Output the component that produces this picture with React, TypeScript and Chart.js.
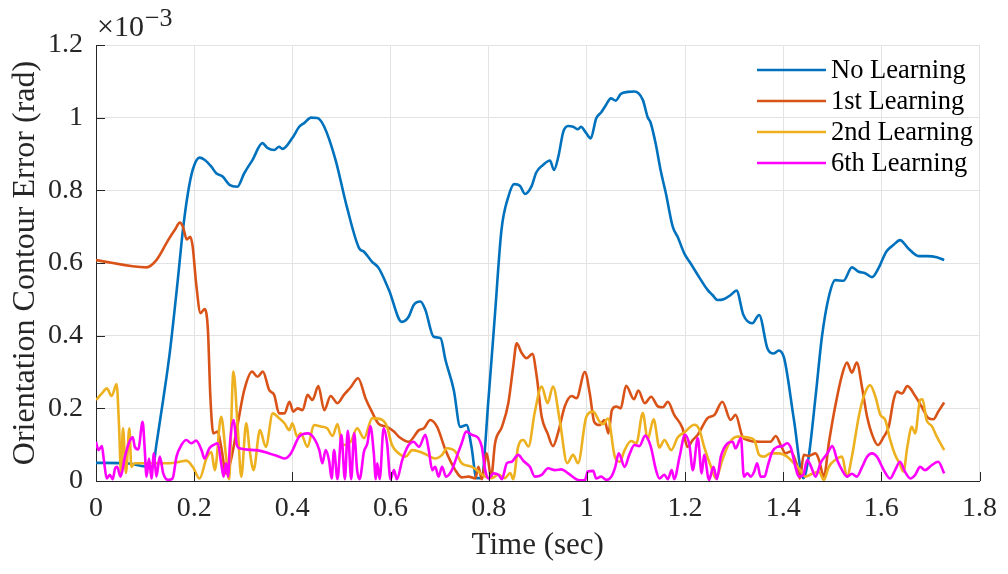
import React, { useEffect, useRef } from "react";
import { Chart, registerables } from "chart.js";

Chart.register(...registerables);

// ---- data (errors in units of 1e-3 rad) ----
const seriesNames = ["No Learning", "1st Learning", "2nd Learning", "6th Learning"];
const seriesColors = ["#0072BD", "#D95319", "#EDB120", "#FF00FF"];

const xTicks = [0, 0.2, 0.4, 0.6, 0.8, 1, 1.2, 1.4, 1.6, 1.8];
const xTickLabels = ["0", "0.2", "0.4", "0.6", "0.8", "1", "1.2", "1.4", "1.6", "1.8"];
const yTicks = [0, 0.2, 0.4, 0.6, 0.8, 1, 1.2];
const yTickLabels = ["0", "0.2", "0.4", "0.6", "0.8", "1", "1.2"];

const noLearnT = [
  0, 0.062, 0.100, 0.116, 0.123, 0.137, 0.150, 0.166, 0.177, 0.187,
  0.197, 0.211, 0.221, 0.235, 0.245, 0.258, 0.272, 0.288, 0.302, 0.319,
  0.339, 0.349, 0.363, 0.373, 0.380, 0.400, 0.414, 0.424, 0.438, 0.451,
  0.465, 0.488, 0.511, 0.536, 0.546, 0.562, 0.576, 0.597, 0.623, 0.637,
  0.647, 0.661, 0.671, 0.688, 0.702, 0.712, 0.729, 0.742, 0.755, 0.765,
  0.775, 0.785, 0.800, 0.813, 0.826, 0.840, 0.852, 0.864, 0.874, 0.887,
  0.897, 0.911, 0.925, 0.933, 0.942, 0.952, 0.962, 0.972, 0.982, 0.988,
  0.998, 1.008, 1.019, 1.029, 1.039, 1.049, 1.059, 1.069, 1.084, 1.097,
  1.114, 1.124, 1.130, 1.140, 1.151, 1.161, 1.175, 1.185, 1.199, 1.211,
  1.226, 1.246, 1.256, 1.266, 1.280, 1.293, 1.305, 1.319, 1.337, 1.351,
  1.368, 1.381, 1.391, 1.402, 1.422, 1.441, 1.452, 1.466, 1.479, 1.493,
  1.506, 1.523, 1.540, 1.554, 1.567, 1.581, 1.594, 1.610, 1.625, 1.638,
  1.655, 1.676, 1.692, 1.713, 1.728,
];
const noLearnV = [
  0.050, 0.049, 0.040, 0.039, 0.100, 0.225, 0.350, 0.545, 0.690, 0.790,
  0.856, 0.890, 0.884, 0.865, 0.847, 0.838, 0.815, 0.810, 0.847, 0.884,
  0.930, 0.917, 0.911, 0.920, 0.914, 0.944, 0.975, 0.985, 1.000, 0.999,
  0.975, 0.884, 0.755, 0.641, 0.631, 0.604, 0.586, 0.525, 0.438, 0.452,
  0.484, 0.494, 0.471, 0.397, 0.393, 0.333, 0.250, 0.149, 0.154, 0.094,
  0.008, 0.008, 0.232, 0.462, 0.690, 0.782, 0.817, 0.812, 0.790, 0.810,
  0.849, 0.870, 0.882, 0.856, 0.893, 0.961, 0.977, 0.975, 0.968, 0.975,
  0.959, 0.943, 0.998, 1.014, 1.035, 1.053, 1.047, 1.065, 1.071, 1.072,
  1.049, 1.001, 0.986, 0.930, 0.851, 0.792, 0.700, 0.672, 0.625, 0.600,
  0.567, 0.526, 0.512, 0.498, 0.501, 0.512, 0.524, 0.457, 0.434, 0.457,
  0.365, 0.351, 0.359, 0.338, 0.168, 0.008, 0.067, 0.232, 0.397, 0.507,
  0.553, 0.551, 0.588, 0.576, 0.572, 0.561, 0.585, 0.631, 0.650, 0.663,
  0.640, 0.619, 0.619, 0.616, 0.608,
];

const firstT = [
  0, 0.103, 0.123, 0.147, 0.160, 0.171, 0.177, 0.185, 0.192, 0.197,
  0.204, 0.213, 0.221, 0.228, 0.233, 0.239, 0.248, 0.255, 0.265, 0.275,
  0.289, 0.302, 0.318, 0.329, 0.340, 0.353, 0.363, 0.373, 0.384, 0.394,
  0.402, 0.411, 0.421, 0.431, 0.441, 0.453, 0.465, 0.478, 0.492, 0.505,
  0.519, 0.534, 0.549, 0.563, 0.576, 0.593, 0.607, 0.617, 0.637, 0.658,
  0.668, 0.681, 0.695, 0.712, 0.732, 0.745, 0.759, 0.773, 0.779, 0.786,
  0.796, 0.805, 0.813, 0.827, 0.840, 0.850, 0.857, 0.867, 0.877, 0.889,
  0.898, 0.908, 0.920, 0.931, 0.942, 0.955, 0.969, 0.979, 0.996, 1.006,
  1.015, 1.026, 1.036, 1.044, 1.051, 1.060, 1.069, 1.080, 1.096, 1.105,
  1.118, 1.131, 1.145, 1.155, 1.165, 1.178, 1.195, 1.205, 1.216, 1.226,
  1.246, 1.260, 1.276, 1.293, 1.303, 1.317, 1.327, 1.354, 1.374, 1.385,
  1.395, 1.405, 1.415, 1.429, 1.434, 1.442, 1.452, 1.466, 1.473, 1.483,
  1.493, 1.506, 1.520, 1.530, 1.540, 1.550, 1.561, 1.571, 1.584, 1.593,
  1.605, 1.615, 1.625, 1.632, 1.642, 1.653, 1.669, 1.682, 1.696, 1.706,
  1.716, 1.728,
];
const firstV = [
  0.608, 0.588, 0.608, 0.663, 0.690, 0.711, 0.700, 0.665, 0.672, 0.645,
  0.544, 0.462, 0.473, 0.416, 0.232, 0.131, 0.136, 0.094, 0.021, 0.058,
  0.159, 0.250, 0.301, 0.287, 0.301, 0.250, 0.237, 0.186, 0.186, 0.218,
  0.191, 0.200, 0.195, 0.237, 0.223, 0.261, 0.195, 0.234, 0.214, 0.237,
  0.258, 0.283, 0.228, 0.188, 0.157, 0.149, 0.136, 0.122, 0.108, 0.140,
  0.145, 0.168, 0.149, 0.085, 0.030, 0.010, 0.012, 0.007, 0.039, 0.005,
  0.076, 0.010, 0.104, 0.149, 0.214, 0.315, 0.379, 0.353, 0.338, 0.350,
  0.287, 0.177, 0.131, 0.096, 0.136, 0.205, 0.234, 0.228, 0.300, 0.241,
  0.163, 0.154, 0.168, 0.131, 0.195, 0.205, 0.200, 0.262, 0.225, 0.249,
  0.214, 0.232, 0.205, 0.203, 0.218, 0.182, 0.145, 0.094, 0.113, 0.127,
  0.173, 0.182, 0.218, 0.168, 0.182, 0.122, 0.113, 0.108, 0.108, 0.124,
  0.099, 0.076, 0.081, 0.039, 0.007, 0.072, 0.069, 0.076, 0.058, 0.012,
  0.104, 0.205, 0.292, 0.326, 0.298, 0.326, 0.255, 0.177, 0.118, 0.099,
  0.122, 0.149, 0.223, 0.246, 0.241, 0.261, 0.234, 0.205, 0.173, 0.170,
  0.191, 0.216,
];

const secondT = [
  0, 0.012, 0.022, 0.032, 0.042, 0.047, 0.051, 0.055, 0.061, 0.068,
  0.072, 0.079, 0.110, 0.150, 0.171, 0.184, 0.197, 0.211, 0.225, 0.235,
  0.242, 0.255, 0.265, 0.271, 0.280, 0.289, 0.296, 0.306, 0.313, 0.321,
  0.334, 0.346, 0.360, 0.373, 0.384, 0.394, 0.400, 0.410, 0.417, 0.431,
  0.444, 0.458, 0.471, 0.482, 0.492, 0.502, 0.519, 0.532, 0.546, 0.563,
  0.583, 0.593, 0.603, 0.617, 0.631, 0.644, 0.658, 0.674, 0.691, 0.705,
  0.715, 0.732, 0.745, 0.766, 0.779, 0.793, 0.806, 0.820, 0.833, 0.844,
  0.850, 0.860, 0.871, 0.881, 0.894, 0.908, 0.920, 0.931, 0.945, 0.960,
  0.972, 0.982, 0.999, 1.013, 1.026, 1.033, 1.043, 1.057, 1.067, 1.077,
  1.090, 1.101, 1.114, 1.124, 1.136, 1.148, 1.158, 1.172, 1.185, 1.199,
  1.219, 1.229, 1.239, 1.253, 1.263, 1.276, 1.290, 1.307, 1.327, 1.341,
  1.351, 1.361, 1.374, 1.391, 1.408, 1.422, 1.435, 1.445, 1.459, 1.473,
  1.483, 1.493, 1.506, 1.520, 1.530, 1.540, 1.554, 1.564, 1.577, 1.588,
  1.598, 1.608, 1.618, 1.628, 1.637, 1.645, 1.653, 1.662, 1.669, 1.679,
  1.684, 1.692, 1.703, 1.713, 1.728,
];
const secondV = [
  0.223, 0.241, 0.255, 0.234, 0.267, 0.149, 0.021, 0.145, 0.022, 0.145,
  0.039, 0.049, 0.049, 0.049, 0.053, 0.056, 0.039, 0.007, 0.062, 0.080,
  0.030, 0.177, 0.067, 0.005, 0.301, 0.140, 0.012, 0.159, 0.085, 0.030,
  0.140, 0.094, 0.186, 0.173, 0.159, 0.140, 0.159, 0.122, 0.131, 0.094,
  0.154, 0.150, 0.145, 0.124, 0.157, 0.099, 0.108, 0.145, 0.118, 0.173,
  0.168, 0.149, 0.099, 0.076, 0.067, 0.085, 0.081, 0.072, 0.062, 0.072,
  0.090, 0.081, 0.049, 0.039, 0.026, 0.012, 0.008, 0.017, 0.008, 0.022,
  0.005, 0.094, 0.113, 0.095, 0.190, 0.260, 0.214, 0.260, 0.165, 0.049,
  0.072, 0.049, 0.177, 0.191, 0.163, 0.156, 0.172, 0.067, 0.053, 0.085,
  0.110, 0.104, 0.187, 0.115, 0.170, 0.092, 0.113, 0.085, 0.120, 0.134,
  0.155, 0.142, 0.094, 0.039, 0.007, 0.058, 0.104, 0.122, 0.120, 0.113,
  0.072, 0.067, 0.076, 0.076, 0.067, 0.049, 0.030, 0.012, 0.020, 0.025,
  0.003, 0.039, 0.058, 0.067, 0.012, 0.067, 0.177, 0.232, 0.264, 0.232,
  0.182, 0.168, 0.113, 0.072, 0.049, 0.026, 0.094, 0.149, 0.131, 0.223,
  0.225, 0.168, 0.151, 0.122, 0.085,
];

const sixthT = [
  0, 0.005, 0.012, 0.016, 0.022, 0.028, 0.034, 0.039, 0.043, 0.050,
  0.059, 0.068, 0.075, 0.079, 0.086, 0.095, 0.099, 0.103, 0.108, 0.113,
  0.118, 0.123, 0.130, 0.137, 0.147, 0.156, 0.164, 0.174, 0.184, 0.194,
  0.204, 0.215, 0.221, 0.231, 0.239, 0.248, 0.255, 0.260, 0.265, 0.269,
  0.273, 0.280, 0.287, 0.292, 0.326, 0.353, 0.373, 0.384, 0.397, 0.414,
  0.431, 0.444, 0.455, 0.461, 0.468, 0.475, 0.480, 0.485, 0.492, 0.500,
  0.507, 0.513, 0.520, 0.526, 0.532, 0.537, 0.546, 0.553, 0.559, 0.566,
  0.570, 0.573, 0.578, 0.586, 0.593, 0.600, 0.607, 0.613, 0.624, 0.637,
  0.647, 0.658, 0.671, 0.678, 0.685, 0.691, 0.698, 0.705, 0.713, 0.725,
  0.735, 0.745, 0.754, 0.766, 0.779, 0.786, 0.793, 0.800, 0.810, 0.820,
  0.827, 0.837, 0.847, 0.860, 0.871, 0.884, 0.894, 0.908, 0.921, 0.935,
  0.948, 0.962, 0.982, 0.996, 1.002, 1.013, 1.019, 1.029, 1.040, 1.050,
  1.058, 1.065, 1.077, 1.087, 1.097, 1.107, 1.119, 1.130, 1.141, 1.148,
  1.158, 1.165, 1.173, 1.178, 1.189, 1.200, 1.209, 1.216, 1.226, 1.234,
  1.239, 1.249, 1.258, 1.265, 1.273, 1.287, 1.297, 1.303, 1.314, 1.320,
  1.327, 1.334, 1.341, 1.347, 1.354, 1.362, 1.369, 1.378, 1.388, 1.398,
  1.408, 1.416, 1.425, 1.432, 1.441, 1.449, 1.457, 1.466, 1.476, 1.490,
  1.500, 1.510, 1.520, 1.530, 1.540, 1.550, 1.561, 1.571, 1.581, 1.591,
  1.605, 1.618, 1.628, 1.638, 1.648, 1.659, 1.669, 1.679, 1.689, 1.703,
  1.716, 1.728,
];
const sixthV = [
  0.108, 0.085, 0.096, 0.058, 0.007, 0.017, 0.005, 0.035, 0.039, 0.012,
  0.067, 0.108, 0.120, 0.094, 0.087, 0.163, 0.094, 0.012, 0.062, 0.007,
  0.076, 0.012, 0.067, 0.021, 0.003, 0.007, 0.067, 0.099, 0.113, 0.104,
  0.111, 0.085, 0.062, 0.090, 0.099, 0.104, 0.049, 0.012, 0.049, 0.012,
  0.104, 0.168, 0.099, 0.090, 0.085, 0.076, 0.067, 0.062, 0.076, 0.122,
  0.131, 0.118, 0.085, 0.049, 0.085, 0.055, 0.007, 0.085, 0.005, 0.127,
  0.005, 0.138, 0.005, 0.131, 0.030, 0.005, 0.081, 0.104, 0.151, 0.076,
  0.005, 0.049, 0.005, 0.145, 0.104, 0.005, 0.030, 0.005, 0.058, 0.099,
  0.108, 0.094, 0.127, 0.085, 0.030, 0.039, 0.012, 0.039, 0.012, 0.030,
  0.067, 0.104, 0.136, 0.127, 0.118, 0.094, 0.030, 0.007, 0.021, 0.017,
  0.005, 0.049, 0.053, 0.072, 0.055, 0.039, 0.012, 0.017, 0.035, 0.030,
  0.032, 0.021, 0.003, 0.002, 0.026, 0.028, 0.007, 0.012, 0.003, 0.012,
  0.039, 0.076, 0.039, 0.074, 0.099, 0.096, 0.125, 0.096, 0.030, 0.007,
  0.017, 0.005, 0.030, 0.005, 0.067, 0.127, 0.099, 0.030, 0.118, 0.021,
  0.072, 0.003, 0.039, 0.005, 0.067, 0.104, 0.108, 0.090, 0.118, 0.012,
  0.021, 0.012, 0.026, 0.049, 0.012, 0.012, 0.044, 0.081, 0.094, 0.096,
  0.104, 0.090, 0.039, 0.012, 0.017, 0.058, 0.039, 0.012, 0.049, 0.076,
  0.096, 0.058, 0.030, 0.012, 0.020, 0.012, 0.039, 0.067, 0.076, 0.067,
  0.030, 0.007, 0.030, 0.053, 0.026, 0.007, 0.017, 0.039, 0.030, 0.044,
  0.053, 0.021,
];

const seriesTimes = [noLearnT, firstT, secondT, sixthT];
const seriesValues = [noLearnV, firstV, secondV, sixthV];

const FONT = '"Liberation Serif", "Times New Roman", Times, serif';
const TEXT = "#262626";

const overlayPlugin = {
  id: "overlay",
  afterDraw(chart: any) {
    const { ctx, chartArea, scales } = chart;
    const { left, top, bottom } = chartArea;
    ctx.save();
    // inward tick marks
    ctx.strokeStyle = TEXT;
    ctx.lineWidth = 1;
    ctx.beginPath();
    scales.x.ticks.forEach((t: any) => {
      const px = Math.round(scales.x.getPixelForValue(t.value)) + 0.5;
      ctx.moveTo(px, bottom);
      ctx.lineTo(px, bottom - 9);
    });
    scales.y.ticks.forEach((t: any) => {
      const py = Math.round(scales.y.getPixelForValue(t.value)) + 0.5;
      ctx.moveTo(left, py);
      ctx.lineTo(left + 9, py);
    });
    ctx.stroke();

    // exponent label
    ctx.fillStyle = TEXT;
    ctx.textAlign = "left";
    ctx.textBaseline = "alphabetic";
    ctx.font = `30px ${FONT}`;
    const base = "\u00d710";
    ctx.fillText(base, left + 1, top - 9);
    const w = ctx.measureText(base).width;
    ctx.font = `26px ${FONT}`;
    ctx.fillText("\u22123", left + 1 + w + 1, top - 19);

    // legend
    const rowY = [70, 101, 132, 163];
    ctx.font = `26.5px ${FONT}`;
    ctx.textBaseline = "middle";
    seriesNames.forEach((name, i) => {
      const y = rowY[i];
      ctx.strokeStyle = seriesColors[i];
      ctx.lineWidth = 2.6;
      ctx.beginPath();
      ctx.moveTo(757, y);
      ctx.lineTo(826, y);
      ctx.stroke();
      ctx.fillStyle = "#000000";
      ctx.fillText(name, 831, y + 1);
    });
    ctx.restore();
  },
};

export default function App() {
  const ref = useRef<HTMLCanvasElement | null>(null);

  useEffect(() => {
    document.body.style.margin = "0";
    const canvas = ref.current;
    if (!canvas) return;
    const datasets = seriesNames.map((name, i) => ({
      label: name,
      data: seriesTimes[i].map((t, j) => ({ x: t, y: seriesValues[i][j] })),
      borderColor: seriesColors[i],
      backgroundColor: seriesColors[i],
      borderWidth: 2.6,
      pointRadius: 0,
      cubicInterpolationMode: "monotone" as const,
      borderJoinStyle: "round" as const,
      fill: false,
      order: 4 - i,
    }));

    const chart = new Chart(canvas, {
      type: "line",
      data: { datasets },
      options: {
        animation: false,
        responsive: false,
        devicePixelRatio: 1,
        layout: { padding: { top: 45, right: 25, left: 0, bottom: 0 } },
        plugins: {
          legend: { display: false },
          tooltip: { enabled: false },
        },
        scales: {
          x: {
            type: "linear",
            min: 0,
            max: 1.8,
            afterBuildTicks: (s: any) => {
              s.ticks = xTicks.map((v) => ({ value: v }));
            },
            afterFit: (s: any) => {
              s.height = 93;
            },
            ticks: {
              callback: (_v: any, i: number) => xTickLabels[i],
              font: { family: FONT, size: 28 },
              color: TEXT,
              padding: 11,
              maxRotation: 0,
              autoSkip: false,
            },
            grid: { color: "#e3e3e3", lineWidth: 1, drawTicks: false },
            border: { color: TEXT, width: 1 },
            title: {
              display: true,
              text: "Time (sec)",
              font: { family: FONT, size: 31 },
              color: TEXT,
              padding: { top: 0, bottom: 10 },
            },
          },
          y: {
            type: "linear",
            min: 0,
            max: 1.2,
            afterBuildTicks: (s: any) => {
              s.ticks = yTicks.map((v) => ({ value: v }));
            },
            afterFit: (s: any) => {
              s.width = 96;
            },
            ticks: {
              callback: (_v: any, i: number) => yTickLabels[i],
              font: { family: FONT, size: 28 },
              color: TEXT,
              padding: 13,
              autoSkip: false,
            },
            grid: { color: "#e3e3e3", lineWidth: 1, drawTicks: false },
            border: { color: TEXT, width: 1 },
            title: {
              display: true,
              text: "Orientation Contour Error (rad)",
              font: { family: FONT, size: 32 },
              color: TEXT,
              padding: { top: 6, bottom: 0 },
            },
          },
        },
      },
      plugins: [overlayPlugin],
    });
    return () => chart.destroy();
  }, []);

  return (
    <div style={{ position: "absolute", left: 0, top: 0, width: 1008, height: 574, background: "#ffffff" }}>
      <canvas ref={ref} width={1008} height={574} style={{ width: 1008, height: 574, display: "block" }} />
    </div>
  );
}
